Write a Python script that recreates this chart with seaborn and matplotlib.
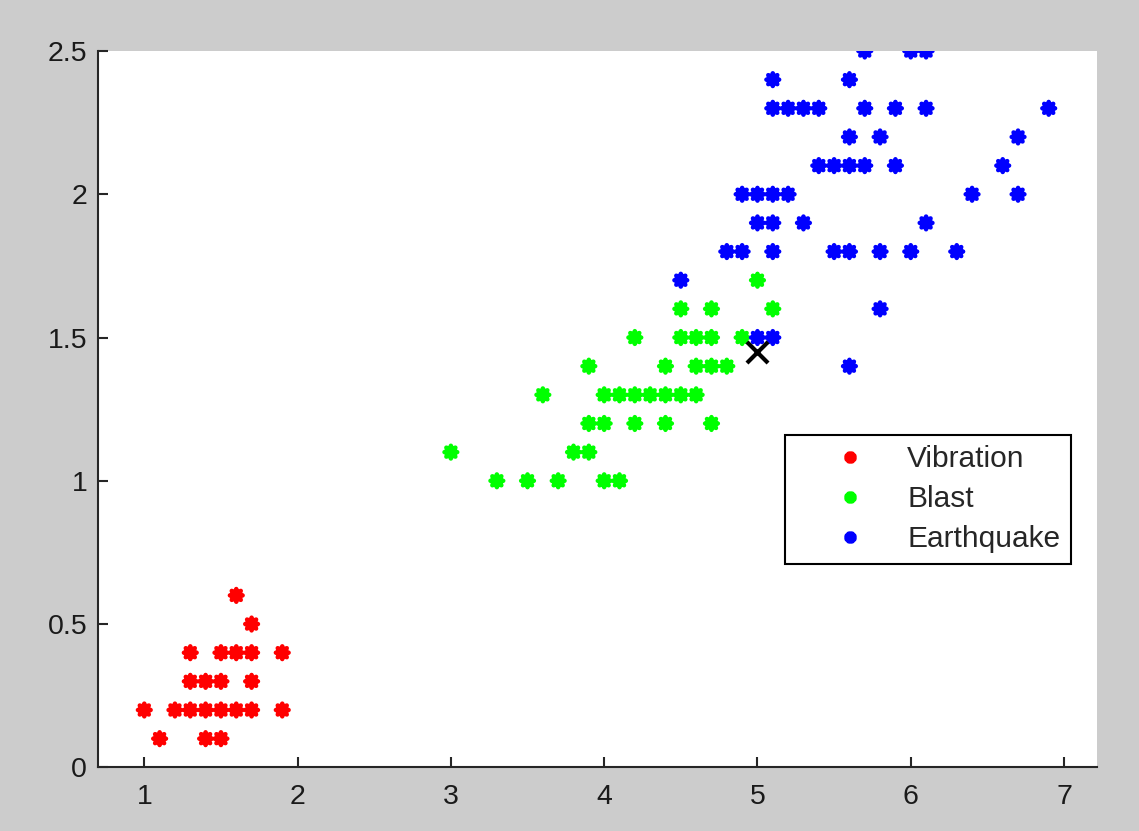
import numpy as np
import pandas as pd
import matplotlib
matplotlib.use("Agg")
import matplotlib.pyplot as plt
import seaborn as sns

# class points (x, y)
vibration_x = [1.0, 1.1, 1.2, 1.3, 1.3, 1.3, 1.4, 1.4, 1.4, 1.5, 1.5, 1.5, 1.5,
               1.6, 1.6, 1.6, 1.7, 1.7, 1.7, 1.7, 1.9, 1.9]
vibration_y = [0.2, 0.1, 0.2, 0.2, 0.3, 0.4, 0.1, 0.2, 0.3, 0.1, 0.2, 0.3, 0.4,
               0.2, 0.4, 0.6, 0.2, 0.3, 0.4, 0.5, 0.2, 0.4]

blast_x = [3.3, 3.5, 3.7, 4.0, 4.1,
           3.0, 3.8, 3.9,
           3.9, 4.0, 4.2, 4.4, 4.7,
           3.6, 4.0, 4.1, 4.2, 4.3, 4.4, 4.5, 4.6,
           3.9, 4.4, 4.6, 4.7, 4.8,
           4.2, 4.5, 4.6, 4.7, 4.9,
           4.5, 4.7, 5.1,
           5.0]
blast_y = [1.0, 1.0, 1.0, 1.0, 1.0,
           1.1, 1.1, 1.1,
           1.2, 1.2, 1.2, 1.2, 1.2,
           1.3, 1.3, 1.3, 1.3, 1.3, 1.3, 1.3, 1.3,
           1.4, 1.4, 1.4, 1.4, 1.4,
           1.5, 1.5, 1.5, 1.5, 1.5,
           1.6, 1.6, 1.6,
           1.7]

quake_x = [5.6,
           5.0, 5.1,
           5.8,
           4.5,
           4.8, 4.9, 5.1, 5.5, 5.6, 5.8, 6.0, 6.3,
           5.0, 5.1, 5.3, 6.1,
           4.9, 5.0, 5.1, 5.2, 6.4, 6.7,
           5.4, 5.5, 5.6, 5.7, 5.9, 6.6,
           5.6, 5.8, 6.7,
           5.1, 5.2, 5.3, 5.4, 5.7, 5.9, 6.1, 6.9,
           5.1, 5.6,
           5.7, 6.0, 6.1]
quake_y = [1.4,
           1.5, 1.5,
           1.6,
           1.7,
           1.8, 1.8, 1.8, 1.8, 1.8, 1.8, 1.8, 1.8,
           1.9, 1.9, 1.9, 1.9,
           2.0, 2.0, 2.0, 2.0, 2.0, 2.0,
           2.1, 2.1, 2.1, 2.1, 2.1, 2.1,
           2.2, 2.2, 2.2,
           2.3, 2.3, 2.3, 2.3, 2.3, 2.3, 2.3, 2.3,
           2.4, 2.4,
           2.5, 2.5, 2.5]

classes = ["Vibration", "Blast", "Earthquake"]
class_colors = ["#ff0000", "#00ff00", "#0000ff"]

query_x = [5.0]
query_y = [1.45]

x_ticks = [1, 2, 3, 4, 5, 6, 7]
y_ticks = [0, 0.5, 1, 1.5, 2, 2.5]
y_tick_labels = ["0", "0.5", "1", "1.5", "2", "2.5"]

df = pd.DataFrame({
    "x": vibration_x + blast_x + quake_x,
    "y": vibration_y + blast_y + quake_y,
    "label": ["Vibration"] * len(vibration_x) + ["Blast"] * len(blast_x) + ["Earthquake"] * len(quake_x),
})

sns.set_style("white")
plt.rcParams["font.family"] = ["Liberation Sans", "DejaVu Sans"]

fig = plt.figure(figsize=(11.39, 8.31), dpi=100, facecolor="#cccccc")
ax = fig.add_axes([98.3 / 1139, 1 - 767.3 / 831, 999 / 1139, 716.3 / 831])
ax.set_facecolor("white")

# MATLAB-style '*' markers look like small spiky blobs
sns.scatterplot(data=df, x="x", y="y", hue="label", hue_order=classes,
                palette=class_colors, marker=(8, 1, 0), s=85, linewidth=3.2,
                edgecolor="face", ax=ax)
ax.scatter(query_x, query_y, marker="x", s=230, color="black", linewidths=3, zorder=5)

ax.set_xlim(0.7, 7.217)
ax.set_ylim(0, 2.5)
ax.set_xticks(x_ticks)
ax.set_yticks(y_ticks)
ax.set_yticklabels(y_tick_labels)
ax.set_xlabel("")
ax.set_ylabel("")

for side in ["top", "right"]:
    ax.spines[side].set_visible(False)
for side in ["left", "bottom"]:
    ax.spines[side].set_color("#262626")
    ax.spines[side].set_linewidth(1.5)

ax.tick_params(bottom=True, left=True, top=False, right=False,
               direction="in", length=7.5, width=1.5, color="#262626",
               labelsize=20.5, labelcolor="#1a1a1a", pad=8)
ax.tick_params(axis="x", pad=12)

handles, labels = ax.get_legend_handles_labels()
leg = ax.legend(handles, labels, loc="upper left",
                bbox_to_anchor=(0.687, 0.464), borderaxespad=0,
                fontsize=21.5, frameon=True, fancybox=False, framealpha=1,
                edgecolor="black", handletextpad=0.05, labelspacing=0.4,
                borderpad=0.35, handlelength=3.7, markerscale=0.85)
leg.get_frame().set_linewidth(1.5)

fig.savefig("out.png", dpi=100, facecolor=fig.get_facecolor())
